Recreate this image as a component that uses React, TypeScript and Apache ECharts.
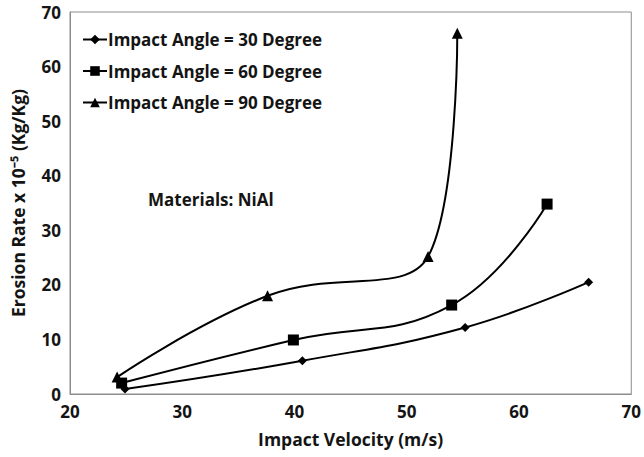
import React, { useEffect, useRef } from "react";
import * as echarts from "echarts";

// Impact velocity (m/s) and erosion rate (x10^-5 Kg/Kg) for each impact angle
const velocity30 = [24.9, 40.7, 55.2, 66.2];
const erosion30 = [0.9, 6.1, 12.2, 20.5];

const velocity60 = [24.6, 39.9, 54.0, 62.5];
const erosion60 = [2.0, 9.9, 16.3, 34.8];

const velocity90 = [24.2, 37.6, 51.9, 54.5];
const erosion90 = [3.1, 18.0, 25.2, 66.1];

const seriesNames = [
  "Impact Angle = 30 Degree",
  "Impact Angle = 60 Degree",
  "Impact Angle = 90 Degree",
];

const FONT = "'Open Sans', 'Liberation Sans', sans-serif";
const TEXT_COLOR = "#141414";
const AXIS_COLOR = "#8c8c8c";

function pairs(xs: number[], ys: number[]) {
  return xs.map((x, i) => [x, ys[i]]);
}

export default function App() {
  const ref = useRef<HTMLDivElement>(null);

  useEffect(() => {
    if (!ref.current) return;
    const chart = echarts.init(ref.current, undefined, { renderer: "svg" });

    const lineSeries = (name: string, data: number[][], symbol: string, size: number) => ({
      name,
      type: "line",
      data,
      smooth: 0.45,
      symbol,
      symbolSize: size,
      lineStyle: { color: "#000", width: 2 },
      itemStyle: { color: "#000" },
    });

    const labelStyle = {
      fontFamily: FONT,
      fontSize: 17,
      fontWeight: 700,
      color: TEXT_COLOR,
    };

    chart.setOption({
      animation: false,
      backgroundColor: "#fff",
      grid: {
        left: 70,
        right: 12,
        top: 12,
        bottom: 63,
        show: true,
        borderColor: AXIS_COLOR,
        borderWidth: 1,
      },
      legend: {
        orient: "vertical",
        left: 77,
        top: 26,
        itemGap: 14.5,
        itemWidth: 24,
        itemHeight: 12,
        data: seriesNames,
        textStyle: {
          fontFamily: FONT,
          fontSize: 17,
          fontWeight: 700,
          color: TEXT_COLOR,
          padding: [0, 0, 0, -4],
        },
      },
      xAxis: {
        type: "value",
        min: 20,
        max: 70,
        interval: 10,
        name: "Impact Velocity (m/s)",
        nameLocation: "middle",
        nameGap: 36,
        nameTextStyle: { fontFamily: FONT, fontSize: 17.5, fontWeight: 700, color: TEXT_COLOR },
        axisLine: { show: true, lineStyle: { color: AXIS_COLOR, width: 1 } },
        axisTick: { show: false },
        splitLine: { show: false },
        axisLabel: { margin: 9, ...labelStyle },
      },
      yAxis: {
        type: "value",
        min: 0,
        max: 70,
        interval: 10,
        name: "Erosion Rate x 10⁻⁵ (Kg/Kg)",
        nameLocation: "middle",
        nameGap: 43,
        nameTextStyle: { fontFamily: FONT, fontSize: 17.5, fontWeight: 700, color: TEXT_COLOR },
        axisLine: { show: true, lineStyle: { color: AXIS_COLOR, width: 1 } },
        axisTick: { show: false },
        splitLine: { show: false },
        axisLabel: { margin: 9, ...labelStyle },
      },
      graphic: [
        {
          type: "text",
          left: 148,
          top: 191,
          style: {
            text: "Materials: NiAl",
            font: `700 17px ${FONT}`,
            fill: TEXT_COLOR,
          },
        },
      ],
      series: [
        lineSeries(seriesNames[0], pairs(velocity30, erosion30), "diamond", 9),
        lineSeries(seriesNames[1], pairs(velocity60, erosion60), "rect", 11),
        lineSeries(seriesNames[2], pairs(velocity90, erosion90), "triangle", 11),
      ],
    });

    return () => chart.dispose();
  }, []);

  return (
    <div
      ref={ref}
      style={{ position: "fixed", left: 0, top: 0, width: 644, height: 457 }}
    />
  );
}
